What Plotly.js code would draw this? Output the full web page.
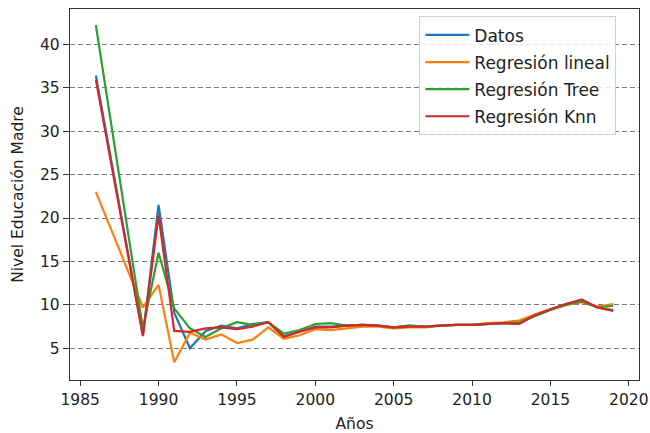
<!DOCTYPE html>
<html>
<head>
<meta charset="utf-8">
<script src="https://cdn.plot.ly/plotly-3.0.1.min.js"></script>
<style>html,body{margin:0;padding:0;background:#fff;}#chart{width:650px;height:433px;}</style>
</head>
<body>
<div id="chart"></div>
<script>
const years = [1986, 1989, 1990, 1991, 1992, 1993, 1994, 1995, 1996, 1997, 1998, 1999, 2000, 2001, 2002, 2003, 2004, 2005, 2006, 2007, 2008, 2009, 2010, 2011, 2012, 2013, 2014, 2015, 2016, 2017, 2018, 2019];
const datos  = [36.4, 6.5, 21.5, 9.1, 5.0, 7.0, 7.6, 7.3, 7.8, 8.0, 6.4, 6.9, 7.5, 7.5, 7.6, 7.7, 7.6, 7.4, 7.6, 7.5, 7.6, 7.7, 7.7, 7.8, 7.9, 7.8, 8.8, 9.5, 10.1, 10.6, 9.7, 9.4];
const lineal = [23.0, 9.7, 12.3, 3.4, 6.8, 6.0, 6.6, 5.6, 6.0, 7.4, 6.1, 6.5, 7.2, 7.1, 7.3, 7.5, 7.5, 7.3, 7.4, 7.4, 7.6, 7.7, 7.7, 7.9, 8.0, 8.2, 8.9, 9.5, 10.0, 10.3, 9.8, 10.1];
const tree   = [42.2, 7.3, 16.0, 9.6, 7.3, 6.3, 7.3, 8.0, 7.7, 8.0, 6.7, 7.1, 7.8, 7.9, 7.6, 7.7, 7.6, 7.4, 7.6, 7.5, 7.6, 7.7, 7.7, 7.8, 7.9, 8.0, 8.7, 9.4, 10.0, 10.4, 9.7, 9.9];
const knn    = [35.9, 6.4, 20.3, 7.0, 6.9, 7.3, 7.4, 7.2, 7.5, 8.0, 6.3, 6.9, 7.4, 7.4, 7.6, 7.7, 7.6, 7.4, 7.5, 7.5, 7.6, 7.7, 7.7, 7.8, 7.9, 7.8, 8.8, 9.5, 10.1, 10.6, 9.7, 9.3];

const seriesNames = ["Datos", "Regresión lineal", "Regresión Tree", "Regresión Knn"];
const seriesValues = [datos, lineal, tree, knn];
const colors = ["#1f77b4", "#ff7f0e", "#2ca02c", "#d62728"];

const xTicks = [1985, 1990, 1995, 2000, 2005, 2010, 2015, 2020];
const yTicks = [5, 10, 15, 20, 25, 30, 35, 40];

const traces = seriesValues.map((v, i) => ({
  x: years, y: v, type: "scatter", mode: "lines", name: seriesNames[i],
  legendgroup: "g" + i,
  line: {color: colors[i], width: 2.2}
}));

const FS = 15.5;
const TXT = "#222";
const font = {family: "DejaVu Sans, sans-serif", size: FS, color: TXT};

const layout = {
  width: 650, height: 433,
  margin: {l: 70, r: 11, t: 9, b: 53},
  paper_bgcolor: "#fff", plot_bgcolor: "#fff",
  font: font,
  showlegend: true,
  legend: {
    x: 0.614, y: 0.98, xanchor: "left", yanchor: "top",
    bgcolor: "rgba(255,255,255,0.85)", bordercolor: "#d0d0d0", borderwidth: 1,
    font: {family: "DejaVu Sans, sans-serif", size: 17, color: TXT},
    itemwidth: 44,
    traceorder: "grouped", tracegroupgap: 2
  },
  xaxis: {
    range: [1984.35, 2020.65], tickvals: xTicks, ticktext: xTicks.map(String),
    showgrid: false, zeroline: false,
    showline: true, mirror: true, linecolor: "#333", linewidth: 1.2,
    ticks: "outside", ticklen: 5, tickcolor: "#333",
    tickfont: {size: FS, color: TXT},
    title: {text: "Años", font: {size: FS, color: TXT}, standoff: 10}
  },
  yaxis: {
    range: [1.35, 44.06], tickvals: yTicks, ticktext: yTicks.map(String),
    showgrid: true, gridcolor: "#7a7a7a", gridwidth: 1, griddash: "5px,3px",
    zeroline: false,
    showline: true, mirror: true, linecolor: "#333", linewidth: 1.2,
    ticks: "outside", ticklen: 6, tickcolor: "#333",
    tickfont: {size: FS, color: TXT},
    title: {text: "Nivel Educación Madre", font: {size: FS, color: TXT}, standoff: 12}
  }
};

Plotly.newPlot("chart", traces, layout, {displayModeBar: false, staticPlot: true});
</script>
</body>
</html>
